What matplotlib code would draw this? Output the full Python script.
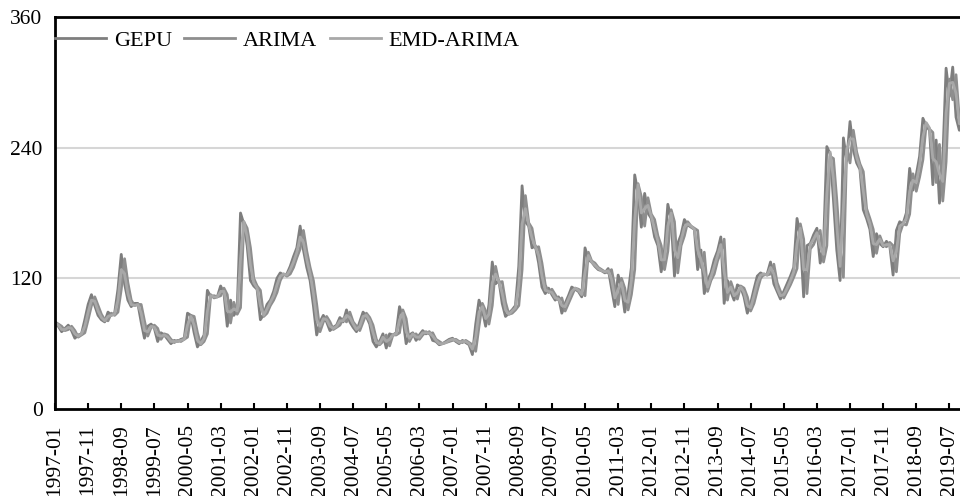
import numpy as np
import pandas as pd
import matplotlib
matplotlib.use("Agg")
import matplotlib.pyplot as plt

plt.rcParams['font.family'] = ['Liberation Serif', 'DejaVu Serif']

# monthly index, 1997-01 .. 2019-12
months = pd.date_range("1997-01-01", "2019-12-01", freq="MS").strftime("%Y-%m").tolist()

gepu = [
    78, 76, 71, 74, 77, 72, 65, 68, 69, 82, 96, 105,
    95, 86, 82, 80, 89, 86, 88, 110, 142, 115, 100, 94,
    97, 97, 80, 65, 76, 78, 74, 62, 70, 68, 64, 60,
    63, 62, 64, 65, 88, 86, 70, 57, 62, 68, 109, 103,
    104, 103, 113, 106, 76, 100, 86, 92, 180, 170, 150, 118,
    113, 110, 82, 87, 96, 100, 108, 120, 125, 123, 124, 131,
    140, 148, 168, 146, 130, 118, 95, 68, 80, 86, 80, 72,
    75, 77, 84, 80, 91, 80, 75, 71, 80, 89, 85, 78,
    62, 57, 62, 69, 56, 69, 68, 70, 94, 84, 60, 68,
    70, 63, 68, 72, 69, 71, 63, 62, 59, 60, 62, 64,
    65, 62, 60, 63, 61, 59, 50, 78, 100, 91, 76, 96,
    135, 115, 118, 97, 85, 88, 91, 95, 131, 205, 172, 168,
    148, 150, 134, 112, 106, 111, 105, 100, 103, 88, 97, 104,
    112, 110, 108, 103, 148, 137, 135, 131, 128, 127, 125, 129,
    111, 94, 123, 112, 89, 106, 130, 215, 198, 167, 198, 180,
    175, 158, 150, 126, 146, 188, 174, 122, 152, 160, 174, 169,
    167, 165, 128, 146, 106, 118, 125, 137, 145, 158, 97, 118,
    108, 100, 114, 112, 103, 88, 97, 110, 122, 125, 123, 124,
    135, 115, 108, 101, 108, 115, 122, 130, 175, 158, 103, 150,
    152, 160, 166, 134, 150, 241, 234, 192, 146, 118, 249, 228,
    264, 238, 226, 220, 183, 175, 165, 140, 161, 152, 149, 154,
    150, 123, 164, 172, 170, 180, 221, 201, 215, 232, 267, 260,
    256, 206, 247, 189, 229, 313, 287, 314, 268, 256, 280, 262,
]

arima = [
    80, 78, 76, 72, 73, 76, 72, 66, 68, 70, 82, 95,
    103, 95, 87, 82, 81, 88, 86, 89, 110, 138, 116, 100,
    95, 96, 96, 81, 67, 75, 77, 74, 64, 69, 68, 64,
    61, 63, 62, 64, 66, 86, 85, 70, 59, 62, 69, 105,
    102, 103, 104, 111, 105, 79, 98, 87, 93, 172, 166, 148,
    120, 113, 109, 85, 88, 95, 100, 107, 118, 124, 122, 124,
    130, 139, 147, 164, 145, 130, 118, 96, 71, 80, 85, 80,
    73, 75, 77, 83, 80, 89, 80, 76, 72, 80, 88, 84,
    77, 64, 59, 62, 68, 58, 68, 68, 70, 91, 83, 62,
    68, 69, 64, 68, 71, 69, 70, 64, 62, 60, 61, 62,
    63, 64, 62, 61, 63, 61, 59, 53, 76, 97, 90, 78,
    95, 131, 116, 117, 98, 87, 88, 91, 95, 128, 196, 171,
    166, 148, 149, 134, 114, 107, 110, 105, 100, 102, 90, 97,
    104, 111, 110, 108, 104, 144, 136, 134, 130, 128, 126, 125,
    128, 112, 96, 120, 111, 91, 105, 128, 207, 195, 168, 194,
    179, 174, 159, 150, 128, 145, 183, 172, 125, 150, 159, 172,
    168, 166, 164, 130, 144, 108, 118, 124, 136, 144, 156, 100,
    117, 108, 101, 113, 111, 103, 90, 97, 109, 120, 124, 123,
    124, 133, 116, 108, 102, 108, 114, 121, 129, 170, 156, 106,
    147, 151, 159, 164, 135, 150, 232, 230, 192, 148, 121, 240,
    226, 256, 236, 225, 218, 184, 175, 165, 143, 159, 151, 149,
    153, 150, 126, 161, 170, 169, 179, 216, 200, 213, 229, 262,
    257, 254, 208, 243, 191, 227, 303, 284, 307, 266, 256, 277,
]

emd_arima = [
    79, 77, 73, 73, 75, 74, 69, 67, 69, 76, 89, 100,
    99, 90, 84, 81, 85, 86, 87, 100, 128, 124, 106, 96,
    95, 96, 88, 72, 71, 76, 75, 68, 67, 68, 66, 62,
    62, 62, 63, 64, 77, 85, 77, 63, 60, 65, 90, 104,
    103, 103, 108, 108, 90, 89, 92, 90, 138, 172, 158, 132,
    116, 111, 95, 86, 92, 98, 104, 114, 122, 124, 123, 128,
    135, 144, 158, 153, 137, 124, 106, 82, 76, 83, 82, 76,
    74, 76, 81, 81, 86, 84, 78, 73, 76, 85, 86, 81,
    70, 61, 60, 66, 62, 64, 68, 69, 82, 88, 71, 65,
    69, 66, 66, 70, 70, 70, 67, 63, 60, 60, 61, 63,
    64, 63, 61, 62, 62, 60, 55, 66, 89, 94, 83, 87,
    116, 124, 117, 106, 91, 87, 90, 93, 114, 170, 184, 169,
    157, 149, 141, 122, 109, 108, 107, 102, 101, 95, 94, 101,
    108, 111, 109, 105, 126, 141, 135, 132, 129, 127, 126, 127,
    119, 102, 110, 116, 100, 98, 118, 174, 206, 180, 184, 187,
    177, 165, 154, 137, 137, 168, 180, 146, 139, 155, 167, 170,
    168, 165, 146, 137, 125, 112, 121, 131, 141, 151, 126, 107,
    112, 104, 107, 112, 107, 95, 93, 104, 116, 123, 124, 123,
    130, 124, 111, 104, 105, 111, 118, 126, 152, 166, 128, 128,
    151, 156, 162, 149, 142, 198, 236, 211, 168, 131, 186, 238,
    248, 248, 231, 222, 200, 179, 170, 152, 151, 156, 150, 151,
    151, 136, 145, 168, 170, 175, 200, 210, 208, 224, 250, 263,
    258, 230, 227, 216, 209, 272, 299, 300, 290, 262, 268, 271,
]

y_ticks = [0, 120, 240, 360]

x = np.arange(len(months))

fig = plt.figure(figsize=(9.6, 4.96), dpi=100)
ax = fig.add_axes([0.0573, 0.1754, 0.9427, 0.7903])

ax.plot(x, gepu, color="#7e7e7e", lw=2.0, label="GEPU")
ax.plot(x, arima, color="#8e8e8e", lw=2.0, label="ARIMA")
ax.plot(x, emd_arima, color="#a8a8a8", lw=2.0, label="EMD-ARIMA")

ax.set_xlim(0, 273.2)
ax.set_ylim(0, 360)
ax.set_yticks(y_ticks)
ax.tick_params(axis="y", length=0, pad=9, labelsize=15.5)
for v in y_ticks[1:-1]:
    ax.axhline(v, color="#d6d6d6", lw=1.5, zorder=0)

tick_pos = x[::10]
ax.set_xticks(tick_pos)
ax.set_xticklabels([months[i] for i in tick_pos], rotation=90)
ax.tick_params(axis="x", direction="in", length=4, width=1.5, pad=11, labelsize=15.5)

for side in ["left", "bottom", "top"]:
    ax.spines[side].set_color("black")
    ax.spines[side].set_linewidth(2)
ax.spines["right"].set_visible(False)

ax.legend(loc="center left", bbox_to_anchor=(0.0, 0.94), ncol=3, frameon=False,
          fontsize=16, handlelength=2.3, handletextpad=0.35, columnspacing=0.55,
          borderpad=0, borderaxespad=0)

fig.savefig("out.png", dpi=100)
